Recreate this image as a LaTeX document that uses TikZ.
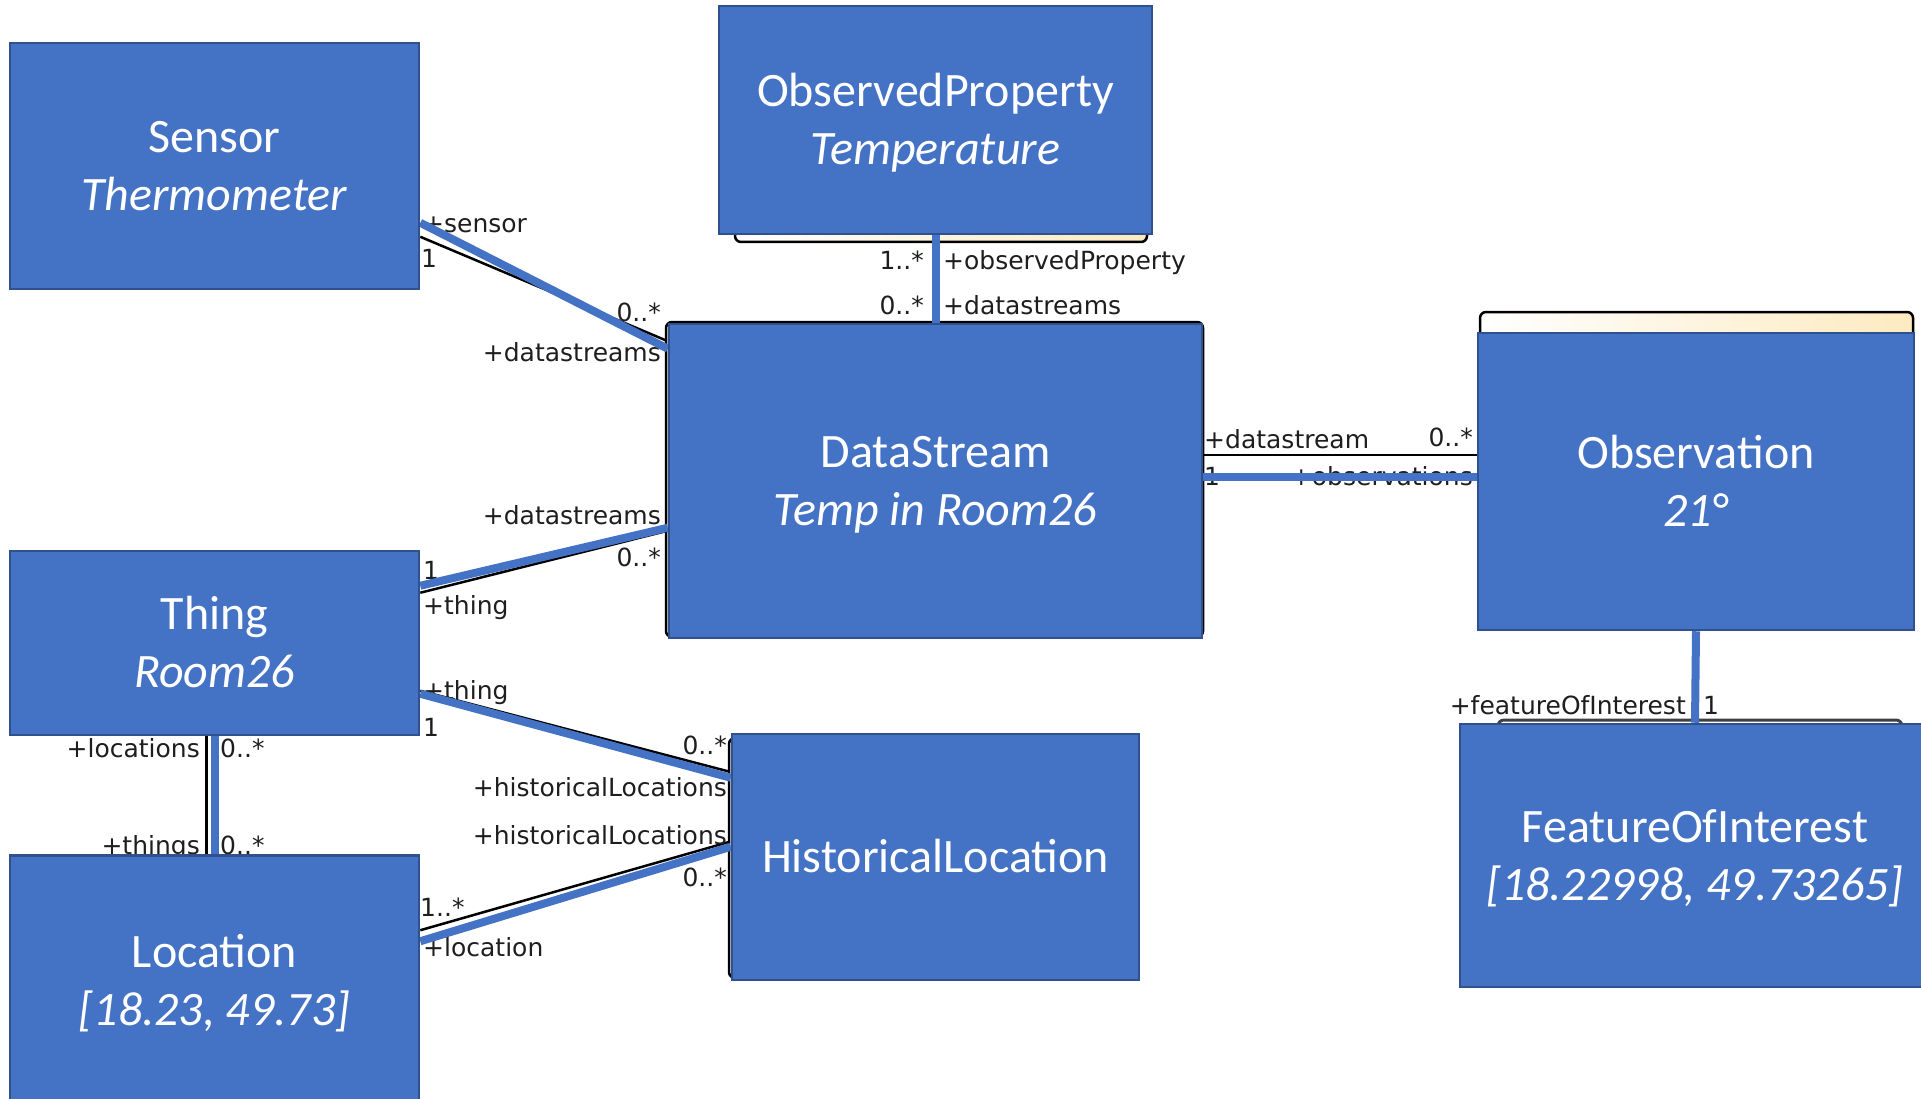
\documentclass[tikz,border=0pt]{standalone}
\usepackage{fontspec}
\setmainfont{Carlito}
\newfontfamily\labelfont{DejaVu Sans}
\usetikzlibrary{calc}
\pgfdeclarelayer{under}
\pgfdeclarelayer{mid}
\pgfsetlayers{under,mid,main}
\definecolor{boxblue}{HTML}{4472C4}
\definecolor{boxedge}{HTML}{2F528F}
\definecolor{cream}{RGB}{253,234,192}
\definecolor{lbltext}{RGB}{30,30,30}
\begin{document}
\begin{tikzpicture}[x=1pt,y=-1pt,
  box/.style={draw=boxedge, line width=2.5pt, fill=boxblue, text=white,
    font=\fontsize{48}{58}\selectfont, align=center, inner sep=0pt,
    text height=89pt, text depth=0pt},
  boxone/.style={box, text height=31pt, text depth=0pt},
  lbl/.style={font=\labelfont\fontsize{25}{25}\selectfont, text=lbltext,
    inner sep=0pt, text height=19pt, text depth=0pt},
  umlline/.style={draw=black, line width=2.5pt},
  bline/.style={draw=boxblue, line width=8pt},
  umlbox/.style={draw=black, line width=2.5pt, rounded corners=6pt},
  umlhead/.style={umlbox, left color=white, right color=cream}
]
\useasboundingbox (0,0) rectangle (1921,1099);

% underlying UML class boxes (peeking out behind the blue boxes)
\begin{pgfonlayer}{under}
  \draw[umlhead] (735,160) rectangle (1147,242);
  \draw[umlbox, fill=white] (666,322) rectangle (1203,637);
  \draw[umlhead] (1480,312) rectangle (1913,420);
  \draw[umlbox, fill=white] (729,738) rectangle (1138,978);
  \draw[umlbox, draw=black!75, line width=3pt] (1498,720) rectangle (1902,800);
\end{pgfonlayer}

% blue boxes
\node[box, minimum width=409pt, minimum height=246pt] (sensor) at (214.5,166) {Sensor\\\textit{Thermometer}};
\node[box, minimum width=433pt, minimum height=228pt] (obsprop) at (935.5,120) {ObservedProperty\\\textit{Temperature}};
\node[box, minimum width=533pt, minimum height=314pt] (ds) at (935.5,481) {DataStream\\\textit{Temp in Room26}};
\node[box, minimum width=436pt, minimum height=297pt] (obs) at (1696,481.5) {Observation\\\textit{21°}};
\node[box, minimum width=409pt, minimum height=184pt] (thing) at (214.5,643) {Thing\\\textit{Room26}};
\node[box, minimum width=409pt, minimum height=250pt] (location) at (214.5,980.5) {Location\\\textit{[18.23, 49.73]}};
\node[boxone, minimum width=407pt, minimum height=246pt] (histloc) at (935.5,857) {HistoricalLocation};
\node[box, minimum width=470pt, minimum height=263pt] (foi) at (1695,855.5) {FeatureOfInterest\\\textit{[18.22998, 49.73265]}};

\begin{pgfonlayer}{mid}
  % underlying black association lines
  \draw[umlline] ($(sensor.north east)+(0,195)$) -- ($(ds.north west)+(-1,18)$);
  \draw[umlline] ($(ds.north east)+(0,132)$) -- ($(obs.north west)+(0,123)$);
  \draw[umlline] ($(thing.north east)+(0,43)$) -- ($(ds.north west)+(0,208)$);
  \draw[umlline] ($(thing.north east)+(0,141)$) -- ($(histloc.north west)+(-1,39)$);
  \draw[umlline] ($(location.north east)+(0,76)$) -- ($(histloc.north west)+(-1,109)$);
  \draw[umlline] ($(thing.south)+(-8,0)$) -- ($(location.north)+(-8,0)$);

  % role and multiplicity labels
  \node[lbl, anchor=west] (l1) at (423,223) {+sensor};
  \node[lbl, anchor=west] (l2) at (421,258) {1};
  \node[lbl, anchor=east] (l3) at (661,312) {0..*};
  \node[lbl, anchor=east] (l4) at (661,352) {+datastreams};

  \node[lbl, anchor=east] (l5) at (924,260) {1..*};
  \node[lbl, anchor=west] (l6) at (943,260) {+observedProperty};
  \node[lbl, anchor=east] (l7) at (924,305) {0..*};
  \node[lbl, anchor=west] (l8) at (943,305) {+datastreams};

  \node[lbl, anchor=west] (l9) at (1204,439) {+datastream};
  \node[lbl, anchor=east] (l10) at (1473,437) {0..*};
  \node[lbl, anchor=west] (l11) at (1204,476) {1};
  \node[lbl, anchor=east] (l12) at (1473,476) {+observations};

  \node[lbl, anchor=east] (l13) at (661,515) {+datastreams};
  \node[lbl, anchor=east] (l14) at (661,557) {0..*};
  \node[lbl, anchor=west] (l15) at (423,570) {1};
  \node[lbl, anchor=west] (l16) at (423,605) {+thing};

  \node[lbl, anchor=west] (l17) at (423,690) {+thing};
  \node[lbl, anchor=west] (l18) at (423,727) {1};
  \node[lbl, anchor=east] (l19) at (727,745) {0..*};
  \node[lbl, anchor=east] (l20) at (727,787) {+historicalLocations};

  \node[lbl, anchor=east] (l21) at (727,835) {+historicalLocations};
  \node[lbl, anchor=east] (l22) at (727,877) {0..*};
  \node[lbl, anchor=west] (l23) at (420,907) {1..*};
  \node[lbl, anchor=west] (l24) at (423,947) {+location};

  \node[lbl, anchor=east] (l25) at (200,748) {+locations};
  \node[lbl, anchor=west] (l26) at (220,748) {0..*};
  \node[lbl, anchor=east] (l27) at (200,845) {+things};
  \node[lbl, anchor=west] (l28) at (220,845) {0..*};

  \node[lbl, anchor=east] (l29) at (1686,705) {+featureOfInterest};
  \node[lbl, anchor=west] (l30) at (1703,705) {1};

  % blue overlay connectors
  \draw[bline] ($(sensor.north east)+(0,181)$) -- ($(ds.north west)+(0,26)$);
  \draw[bline] (obsprop.south) -- (ds.north);
  \draw[bline] ($(ds.north east)+(0,154)$) -- ($(obs.north west)+(0,145)$);
  \draw[bline] ($(thing.north east)+(0,36)$) -- ($(ds.north west)+(0,205)$);
  \draw[bline] ($(thing.north east)+(0,144)$) -- ($(histloc.north west)+(0,45)$);
  \draw[bline] ($(location.north east)+(0,87)$) -- ($(histloc.north west)+(0,114)$);
  \draw[bline] (thing.south) -- (location.north);
  \draw[bline] (obs.south) -- (foi.north);
\end{pgfonlayer}
\end{tikzpicture}
\end{document}
